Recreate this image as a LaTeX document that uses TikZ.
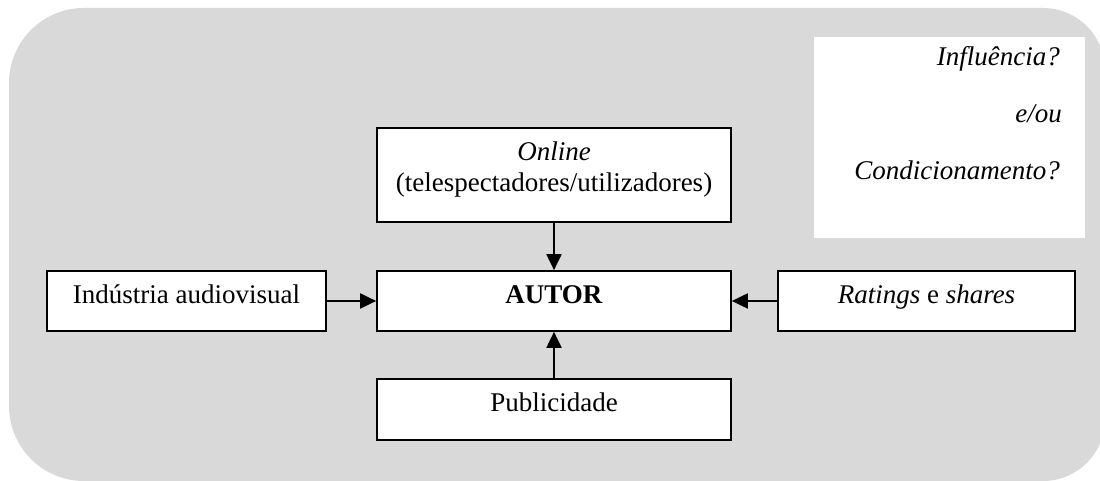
\documentclass[tikz,border=0pt]{standalone}
\usepackage{fontspec}
\setmainfont{Liberation Serif}
\usetikzlibrary{arrows.meta}
\definecolor{bggray}{HTML}{D9D9D9}
\tikzset{
  box/.style={draw=black, line width=1.7pt, fill=white, inner sep=0pt,
    font=\fontsize{27}{31}\selectfont, text height=0.7em, text depth=0.2em},
  plain/.style={inner sep=0pt, align=center, font=\fontsize{27}{31}\selectfont},
  arr/.style={line width=2pt, -{Triangle[length=16pt,width=15pt]}},
  qtext/.style={inner sep=0pt, anchor=east, font=\fontsize{27}{31}\selectfont\itshape,
    text height=0.7em, text depth=0.2em}
}
\begin{document}
\begin{tikzpicture}[x=1pt,y=1pt]
\useasboundingbox (0,0) rectangle (1100,481);
\begin{scope}
\clip (0,0) rectangle (1100,481);
\fill[bggray] (9,75) -- (9,398) arc[start angle=180,end angle=90,radius=75]
  -- (1043,473) arc[start angle=90,end angle=0,radius=62]
  -- (1105,62) arc[start angle=0,end angle=-90,radius=62]
  -- (84,0) arc[start angle=270,end angle=180,radius=75] -- cycle;
\fill[white] (814,243) rectangle (1085,444);
\end{scope}
\node[qtext] (q1) at (1060,418) {Influência?};
\node[qtext] (q2) at (1062,361) {e/ou};
\node[qtext] (q3) at (1060,304) {Condicionamento?};
\node[box, minimum width=354, minimum height=94] (online) at (554,306) {};
\node[plain] (onlinetxt) at (554,311.5) {\textit{Online}\\(telespectadores/utilizadores)};
\node[box, minimum width=354, minimum height=60] (autor) at (554,180) {\textbf{AUTOR}};
\node[box, minimum width=279, minimum height=60] (ind) at (186.5,180) {Indústria audiovisual};
\node[box, minimum width=297, minimum height=60] (rat) at (926.5,180) {\textit{Ratings} e \textit{shares}};
\node[box, minimum width=354, minimum height=61] (pub) at (554,71.5) {Publicidade};
\draw[arr] (online.south) -- (autor.north);
\draw[arr] (ind.east) -- (autor.west);
\draw[arr] (rat.west) -- (autor.east);
\draw[arr] (pub.north) -- (autor.south);
\end{tikzpicture}
\end{document}
